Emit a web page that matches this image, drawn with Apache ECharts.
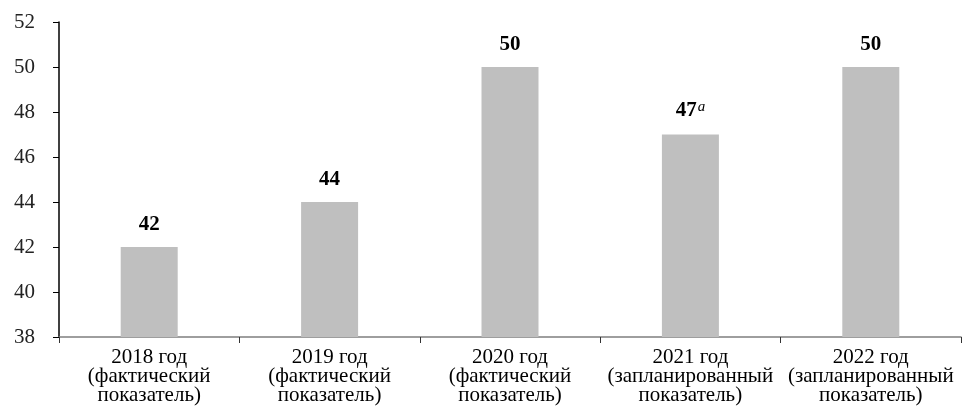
<!DOCTYPE html>
<html><head><meta charset="utf-8">
<script src="https://cdn.jsdelivr.net/npm/echarts@6/dist/echarts.min.js"></script>
<style>html,body{margin:0;padding:0;background:#fff}#c{width:962px;height:407px}</style>
</head><body><div id="c"></div>
<script>
var categories = ['2018 год\n(фактический\nпоказатель)','2019 год\n(фактический\nпоказатель)','2020 год\n(фактический\nпоказатель)','2021 год\n(запланированный\nпоказатель)','2022 год\n(запланированный\nпоказатель)'];
var values = [42, 44, 50, 47, 50];
var labelSuffix = ['', '', '', 'a', ''];
var yMin = 38, yMax = 52, yStep = 2;

var chart = echarts.init(document.getElementById('c'));
var font = '"Liberation Serif","DejaVu Serif",serif';
chart.setOption({
  animation: false,
  grid: {left: 59, right: 1, top: 22, bottom: 70, containLabel: false, outerBoundsMode: 'none'},
  xAxis: {
    type: 'category', data: categories,
    axisLine: {lineStyle: {color: '#7f7f7f', width: 1.5}},
    axisTick: {show: true, alignWithLabel: false, length: 6, lineStyle: {color: '#333'}},
    axisLabel: {fontFamily: font, fontSize: 21, color: '#000', lineHeight: 19, margin: 11, interval: 0}
  },
  yAxis: {
    type: 'value', min: yMin, max: yMax, interval: yStep,
    splitLine: {show: false},
    axisLine: {show: true, lineStyle: {color: '#000', width: 1.5}},
    axisTick: {show: true, length: 6, lineStyle: {color: '#000'}},
    axisLabel: {fontFamily: font, fontSize: 21, color: '#222', margin: 24}
  },
  series: [{
    type: 'bar', barWidth: 57,
    data: values,
    itemStyle: {color: '#bfbfbf'},
    label: {
      show: true, position: 'top', distance: 12,
      formatter: function(p){ var s = labelSuffix[p.dataIndex]; return '{b|' + p.value + '}' + (s ? '{s|' + s + '}' : ''); },
      rich: {
        b: {fontFamily: font, fontSize: 21, fontWeight: 'bold', color: '#000'},
        s: {fontFamily: font, fontSize: 15, fontStyle: 'italic', color: '#000', verticalAlign: 'top', padding: [0,0,8,1]}
      }
    }
  }]
});
</script></body></html>
